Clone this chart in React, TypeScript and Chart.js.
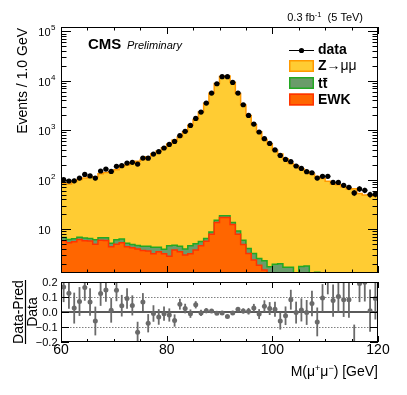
import React, { useEffect, useRef } from "react";
import { Chart, registerables } from "chart.js";
Chart.register(...registerables);

// ---------------- data ----------------
const BIN_LOW = 60;
const BIN_WIDTH = 1.0;
const NBINS = 60;

const dataCounts = [
  100, 94, 95, 108, 128, 119, 108, 150, 164, 147,
  186, 192, 217, 224, 207, 274, 272, 330, 368, 437,
  517, 594, 774, 950, 1250, 1730, 2330, 3540, 5640, 8690,
  12100, 12100, 9240, 5640, 3270, 1990, 1333, 920, 674, 541,
  400, 310, 257, 231, 189, 169, 145, 138, 108, 117,
  117, 88, 88, 77, 70, 54, 65, 61, 50, 51,
];

const zMumu = [
  77, 76, 86, 94, 101, 105, 108, 125, 133, 140,
  153, 178, 192, 209, 230, 251, 288, 329, 376, 438,
  523, 623, 729, 924, 1259, 1642, 2338, 3501, 5591, 8753,
  12166, 12444, 9291, 5529, 3241, 1976, 1294, 930, 646, 527,
  391, 327, 262, 210, 189, 165, 144, 129, 114, 105,
  92, 81, 78, 70, 64, 65, 52, 48, 49, 46,
];

const ttbar = [
  0.95, 0.9, 0.85, 0.7, 0.75, 0.75, 1.15, 0.7, 0.8, 0.8,
  1.15, 1.05, 0.8, 0.7, 0.67, 0.8, 0.9, 1.13, 0.8, 0.75,
  1.75, 0.95, 1.0, 0.98, 1.43, 1.25, 1.0, 0.8, 0.9, 1.6,
  1.4, 1.4, 1.2, 1.3, 1.1, 0.84, 0.86, 0.69, 0.8, 0.63,
  1.36, 1.5, 1.3, 1.3, 1.0, 1.45, 1.5, 0.8, 1.15, 0.6,
  0.6, 0.6, 0.6, 0.6, 0.6, 0.6, 0.6, 0.6, 0.6, 0.6,
];

const ewk = [
  5.85, 5.3, 5.55, 6.2, 5.85, 5.75, 4.95, 6.0, 5.9, 4.4,
  4.95, 5.3, 4.4, 4.2, 3.98, 3.7, 3.6, 3.17, 3.5, 3.17,
  2.85, 3.8, 3.5, 3.0, 3.17, 3.8, 4.6, 5.7, 7.9, 13.6,
  17.2, 17.2, 12.4, 7.9, 4.9, 3.23, 2.37, 1.87, 1.49, 1.1,
  0.6, 0.5, 0.4, 0.4, 0.3, 0.3, 0.3, 0.2, 0.2, 0.2,
  0.2, 0.2, 0.2, 0.2, 0.2, 0.2, 0.2, 0.2, 0.2, 0.2,
];

const ratio = [
  0.166, 0.125, 0.026, 0.07, 0.163, 0.067, -0.06, 0.123, 0.147, 0.011,
  0.145, 0.042, 0.09, 0.044, -0.135, 0.066, -0.075, -0.01, -0.033, -0.011,
  -0.02, -0.057, 0.052, 0.023, -0.011, 0.048, -0.006, 0.009, 0.007, -0.009,
  -0.007, -0.03, -0.007, 0.018, 0.007, 0.005, 0.027, -0.014, 0.039, 0.023,
  0.018, -0.06, -0.025, 0.082, -0.004, 0.014, -0.003, 0.056, -0.066, 0.094,
  0.21, 0.076, 0.103, 0.081, 0.081, -0.22, 0.19, 0.198, 0.009, 0.09,
];

const ratioErr = [
  0.100, 0.103, 0.103, 0.096, 0.088, 0.092, 0.096, 0.082, 0.078, 0.082,
  0.073, 0.072, 0.068, 0.067, 0.070, 0.060, 0.061, 0.055, 0.052, 0.048,
  0.044, 0.041, 0.036, 0.032, 0.028, 0.024, 0.021, 0.017, 0.013, 0.011,
  0.009, 0.009, 0.010, 0.013, 0.017, 0.022, 0.027, 0.033, 0.039, 0.043,
  0.050, 0.057, 0.062, 0.066, 0.073, 0.077, 0.083, 0.085, 0.096, 0.092,
  0.092, 0.107, 0.107, 0.114, 0.120, 0.136, 0.124, 0.128, 0.141, 0.140,
];

const xLabelTicks = [60, 80, 100, 120];
const xTickStep = 5;
const yExponents = [1, 2, 3, 4, 5];
const ratioTicks = [0.2, 0.1, 0.0, -0.1, -0.2];
const ratioTickLabels = ["0.2", "0.1", "0.0", "\u22120.1", "\u22120.2"];

// ---------------- style ----------------
const FONT = "'Liberation Sans', Arial, Helvetica, sans-serif";
const W = 407;
const H = 395;
const MAIN_PAD = { left: 61, top: 27, right: 29, bottom: 122 };
const RATIO_PAD = { left: 61, top: 282, right: 29, bottom: 53 };

const Z_FILL = "#ffcc33";
const Z_LINE = "#ff9900";
const TT_FILL = "#6a9c6a";
const TT_LINE = "#22a822";
const EWK_FILL = "#ff6600";
const EWK_LINE = "#ff3300";
const RATIO_COLOR = "#6a6a6a";

const centers = Array.from({ length: NBINS }, (_, i) => BIN_LOW + (i + 0.5) * BIN_WIDTH);
const edges = Array.from({ length: NBINS + 1 }, (_, i) => BIN_LOW + i * BIN_WIDTH);

type Part = { text: string; font: string; dy?: number };

function drawParts(ctx: CanvasRenderingContext2D, parts: Part[], x: number, y: number, align: "left" | "right" | "center") {
  const widths = parts.map((p) => {
    ctx.font = p.font;
    return ctx.measureText(p.text).width;
  });
  const total = widths.reduce((a, b) => a + b, 0);
  let cx = align === "left" ? x : align === "right" ? x - total : x - total / 2;
  ctx.textAlign = "left";
  parts.forEach((p, i) => {
    ctx.font = p.font;
    ctx.fillText(p.text, cx, y + (p.dy || 0));
    cx += widths[i];
  });
}

function hLine(ctx: CanvasRenderingContext2D, x1: number, x2: number, y: number) {
  ctx.beginPath();
  ctx.moveTo(x1, y);
  ctx.lineTo(x2, y);
  ctx.stroke();
}
function vLine(ctx: CanvasRenderingContext2D, x: number, y1: number, y2: number) {
  ctx.beginPath();
  ctx.moveTo(x, y1);
  ctx.lineTo(x, y2);
  ctx.stroke();
}

const mainDecor = {
  id: "mainDecor",
  afterDatasetsDraw(chart: any) {
    const ctx = chart.ctx as CanvasRenderingContext2D;
    const xs = chart.scales.x;
    const ys = chart.scales.y;
    ctx.save();
    ctx.strokeStyle = "#000";
    ctx.lineWidth = 1;
    dataCounts.forEach((v, i) => {
      const py = ys.getPixelForValue(v);
      const xl = xs.getPixelForValue(edges[i]);
      const xr = xs.getPixelForValue(edges[i + 1]);
      hLine(ctx, xl, xr, py);
      const err = ratioErr[i] * v;
      vLine(ctx, xs.getPixelForValue(centers[i]), ys.getPixelForValue(v + err), ys.getPixelForValue(v - err));
    });
    ctx.restore();
  },
  afterDraw(chart: any) {
    const ctx = chart.ctx as CanvasRenderingContext2D;
    const a = chart.chartArea;
    const xs = chart.scales.x;
    const ys = chart.scales.y;
    ctx.save();
    ctx.strokeStyle = "#000";
    ctx.fillStyle = "#000";
    ctx.lineWidth = 1;
    // frame
    ctx.strokeRect(a.left + 0.5, a.top + 0.5, a.right - a.left - 1, a.bottom - a.top - 1);
    // x ticks
    for (let v = BIN_LOW; v <= BIN_LOW + NBINS * BIN_WIDTH + 1e-9; v += xTickStep) {
      const px = Math.round(xs.getPixelForValue(v)) + 0.5;
      const len = xLabelTicks.includes(v) ? 7 : 3.5;
      vLine(ctx, px, a.bottom, a.bottom - len);
      vLine(ctx, px, a.top, a.top + len);
    }
    // y ticks (log)
    for (let e = 0; e <= 5; e++) {
      for (let m = 1; m <= 9; m++) {
        const v = m * Math.pow(10, e);
        if (v < ys.min || v > ys.max) continue;
        const py = Math.round(ys.getPixelForValue(v)) + 0.5;
        const len = m === 1 ? 10 : 5.5;
        hLine(ctx, a.left, a.left + len, py);
        hLine(ctx, a.right, a.right - len, py);
      }
    }
    // y labels
    ctx.textBaseline = "middle";
    yExponents.forEach((e) => {
      const py = ys.getPixelForValue(Math.pow(10, e));
      ctx.font = `11px ${FONT}`;
      ctx.textAlign = "right";
      ctx.fillText("10", 50.5, py + 2);
      if (e !== 1) {
        ctx.font = `8px ${FONT}`;
        ctx.textAlign = "left";
        ctx.fillText(String(e), 51, py - 3);
      }
    });
    // y title
    ctx.save();
    ctx.translate(27, 28);
    ctx.rotate(-Math.PI / 2);
    ctx.font = `14px ${FONT}`;
    ctx.textAlign = "right";
    ctx.textBaseline = "alphabetic";
    ctx.fillText("Events / 1.0 GeV", 0, 0);
    ctx.restore();
    // CMS label
    ctx.textBaseline = "alphabetic";
    ctx.textAlign = "left";
    ctx.font = `bold 15px ${FONT}`;
    ctx.fillText("CMS", 88, 49);
    ctx.font = `italic 11px ${FONT}`;
    ctx.fillText("Preliminary", 127, 49);
    // lumi
    drawParts(
      ctx,
      [
        { text: "0.3 fb", font: `11px ${FONT}` },
        { text: "-1", font: `7.5px ${FONT}`, dy: -4 },
        { text: "  (5 TeV)", font: `11px ${FONT}` },
      ],
      363,
      21,
      "right"
    );
    // legend
    const lx = 289;
    const lw = 25;
    const tx = 318;
    // data
    ctx.lineWidth = 1;
    hLine(ctx, lx, lx + lw, 50.5);
    ctx.beginPath();
    ctx.arc(lx + lw / 2, 50.5, 2.6, 0, Math.PI * 2);
    ctx.fill();
    ctx.textBaseline = "middle";
    ctx.font = `bold 14px ${FONT}`;
    ctx.textAlign = "left";
    ctx.fillText("data", tx, 50);
    const boxes = [
      { y: 60, fill: Z_FILL, line: Z_LINE },
      { y: 77, fill: TT_FILL, line: TT_LINE },
      { y: 93.5, fill: EWK_FILL, line: EWK_LINE },
    ];
    boxes.forEach((b) => {
      ctx.fillStyle = b.fill;
      ctx.fillRect(lx, b.y, lw, 12);
      ctx.strokeStyle = b.line;
      ctx.lineWidth = 1.5;
      ctx.strokeRect(lx + 0.75, b.y + 0.75, lw - 1.5, 12 - 1.5);
    });
    ctx.fillStyle = "#000";
    ctx.strokeStyle = "#000";
    drawParts(
      ctx,
      [
        { text: "Z", font: `bold 14px ${FONT}` },
        { text: "\u2192\u03bc\u03bc", font: `14px ${FONT}` },
      ],
      tx,
      66.5,
      "left"
    );
    ctx.font = `bold 14px ${FONT}`;
    ctx.textAlign = "left";
    ctx.fillText("tt", tx, 84);
    const tW = ctx.measureText("t").width;
    const ttW = ctx.measureText("tt").width;
    ctx.lineWidth = 1.2;
    hLine(ctx, tx + tW + 0.5, tx + ttW, 78.5);
    ctx.fillText("EWK", tx, 100);
    ctx.restore();
  },
};

const ratioDecor = {
  id: "ratioDecor",
  beforeDatasetsDraw(chart: any) {
    const ctx = chart.ctx as CanvasRenderingContext2D;
    const a = chart.chartArea;
    const xs = chart.scales.x;
    const ys = chart.scales.y;
    ctx.save();
    // dotted lines at +-0.1
    ctx.strokeStyle = "#808080";
    ctx.lineWidth = 1.2;
    ctx.setLineDash([1.5, 1.5]);
    [0.1, -0.1].forEach((v) => hLine(ctx, a.left, a.right, Math.round(ys.getPixelForValue(v)) + 0.5));
    ctx.setLineDash([]);
    // zero line
    ctx.strokeStyle = "#5a5a5a";
    ctx.lineWidth = 2;
    hLine(ctx, a.left, a.right, ys.getPixelForValue(0));
    // error bars
    ctx.strokeStyle = RATIO_COLOR;
    ctx.lineWidth = 1.8;
    ratio.forEach((v, i) => {
      const lo = Math.max(v - ratioErr[i], ys.min);
      const hi = Math.min(v + ratioErr[i], ys.max);
      if (hi <= lo) return;
      const px = xs.getPixelForValue(centers[i]);
      vLine(ctx, px, ys.getPixelForValue(hi), ys.getPixelForValue(lo));
    });
    ctx.restore();
  },
  afterDraw(chart: any) {
    const ctx = chart.ctx as CanvasRenderingContext2D;
    const a = chart.chartArea;
    const xs = chart.scales.x;
    const ys = chart.scales.y;
    ctx.save();
    ctx.strokeStyle = "#000";
    ctx.fillStyle = "#000";
    ctx.lineWidth = 1;
    ctx.strokeRect(a.left + 0.5, a.top + 0.5, a.right - a.left - 1, a.bottom - a.top - 1);
    // x ticks
    for (let v = BIN_LOW; v <= BIN_LOW + NBINS * BIN_WIDTH + 1e-9; v += xTickStep) {
      const px = Math.round(xs.getPixelForValue(v)) + 0.5;
      const len = xLabelTicks.includes(v) ? 6 : 3;
      vLine(ctx, px, a.bottom, a.bottom - len);
      vLine(ctx, px, a.top, a.top + len);
    }
    // y ticks + labels
    ctx.textBaseline = "middle";
    ctx.textAlign = "right";
    ctx.font = `11px ${FONT}`;
    ratioTicks.forEach((v, i) => {
      const py = Math.round(ys.getPixelForValue(v)) + 0.5;
      hLine(ctx, a.left, a.left + 8, py);
      hLine(ctx, a.right, a.right - 8, py);
      ctx.fillText(ratioTickLabels[i], 57.5, ys.getPixelForValue(v) + 0.5);
    });
    // x labels
    ctx.textAlign = "center";
    ctx.font = `14px ${FONT}`;
    xLabelTicks.forEach((v) => {
      ctx.fillText(String(v), xs.getPixelForValue(v), 350);
    });
    // x title
    ctx.textBaseline = "alphabetic";
    drawParts(
      ctx,
      [
        { text: "M(\u03bc", font: `14px ${FONT}` },
        { text: "+", font: `9px ${FONT}`, dy: -5 },
        { text: "\u03bc", font: `14px ${FONT}` },
        { text: "\u2212", font: `9px ${FONT}`, dy: -5 },
        { text: ") [GeV]", font: `14px ${FONT}` },
      ],
      378,
      376,
      "right"
    );
    // y title (fraction)
    const cy = (a.top + a.bottom) / 2;
    ctx.save();
    ctx.translate(23, cy);
    ctx.rotate(-Math.PI / 2);
    ctx.font = `14px ${FONT}`;
    ctx.textAlign = "center";
    ctx.fillText("Data-Pred", 0, 0);
    ctx.restore();
    ctx.save();
    ctx.translate(37, cy);
    ctx.rotate(-Math.PI / 2);
    ctx.font = `14px ${FONT}`;
    ctx.textAlign = "center";
    ctx.fillText("Data", 0, 0);
    ctx.restore();
    ctx.lineWidth = 1.2;
    vLine(ctx, 25.5, cy - 32, cy + 32);
    ctx.restore();
  },
};

function stepPoints(arr: number[]) {
  return edges.map((x, i) => ({ x, y: arr[Math.min(i, NBINS - 1)] }));
}

export default function App() {
  const mainRef = useRef<HTMLCanvasElement | null>(null);
  const ratioRef = useRef<HTMLCanvasElement | null>(null);

  useEffect(() => {
    const ewkCum = ewk.slice();
    const ttCum = ewk.map((v, i) => v + ttbar[i]);
    const zCum = ttCum.map((v, i) => v + zMumu[i]);

    const stepDs = (label: string, arr: number[], fill: string, line: string) => ({
      label,
      data: stepPoints(arr),
      stepped: true,
      fill: "start",
      backgroundColor: fill,
      borderColor: line,
      borderWidth: 1.5,
      pointRadius: 0,
      tension: 0,
    });

    const main = new Chart(mainRef.current as HTMLCanvasElement, {
      type: "line",
      data: {
        datasets: [
          {
            label: "data",
            data: centers.map((x, i) => ({ x, y: dataCounts[i] })),
            showLine: false,
            pointRadius: 2.6,
            pointBorderWidth: 0,
            pointBackgroundColor: "#000",
            pointBorderColor: "#000",
            borderColor: "#000",
            backgroundColor: "#000",
          } as any,
          stepDs("EWK", ewkCum, EWK_FILL, EWK_LINE),
          stepDs("ttbar", ttCum, TT_FILL, TT_LINE),
          stepDs("Z->mumu", zCum, Z_FILL, Z_LINE),
        ],
      },
      options: {
        animation: false,
        responsive: false,
        devicePixelRatio: 1,
        layout: { padding: MAIN_PAD },
        events: [],
        scales: {
          x: { type: "linear", min: BIN_LOW, max: BIN_LOW + NBINS * BIN_WIDTH, display: false },
          y: { type: "logarithmic", min: 1.3, max: 1.22e5, display: false },
        },
        plugins: { legend: { display: false }, tooltip: { enabled: false } },
      } as any,
      plugins: [mainDecor],
    });

    const ratioChart = new Chart(ratioRef.current as HTMLCanvasElement, {
      type: "scatter",
      data: {
        datasets: [
          {
            label: "ratio",
            data: centers.map((x, i) => ({ x, y: ratio[i] })),
            pointRadius: (c: any) => (Math.abs(ratio[c.dataIndex]) > 0.2 ? 0 : 2.5),
            pointBorderWidth: 0,
            pointBackgroundColor: RATIO_COLOR,
            pointBorderColor: RATIO_COLOR,
          } as any,
        ],
      },
      options: {
        animation: false,
        responsive: false,
        devicePixelRatio: 1,
        layout: { padding: RATIO_PAD },
        events: [],
        scales: {
          x: { type: "linear", min: BIN_LOW, max: BIN_LOW + NBINS * BIN_WIDTH, display: false },
          y: { type: "linear", min: -0.2, max: 0.2, display: false },
        },
        plugins: { legend: { display: false }, tooltip: { enabled: false } },
      } as any,
      plugins: [ratioDecor],
    });

    return () => {
      main.destroy();
      ratioChart.destroy();
    };
  }, []);

  return (
    <div style={{ position: "absolute", left: 0, top: 0, width: W, height: H, background: "#fff" }}>
      <canvas ref={mainRef} width={W} height={H} style={{ position: "absolute", left: 0, top: 0, width: W, height: H }} />
      <canvas ref={ratioRef} width={W} height={H} style={{ position: "absolute", left: 0, top: 0, width: W, height: H }} />
    </div>
  );
}
